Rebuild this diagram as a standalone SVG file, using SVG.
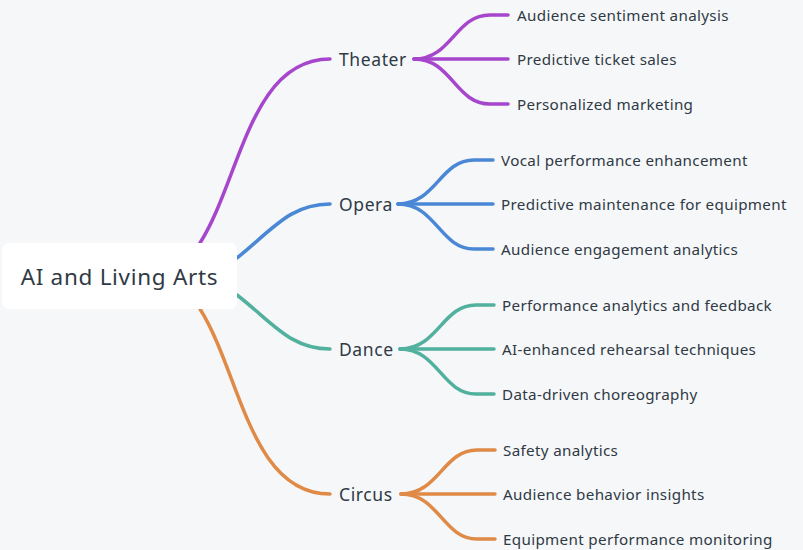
<svg xmlns="http://www.w3.org/2000/svg" width="803" height="550" viewBox="0 0 803 550">
<style>
text{font-family:"Noto Sans","Open Sans",sans-serif;fill:#2F3A45;dominant-baseline:central}
.root{font-size:22.5px;letter-spacing:0.7px}
.main{font-size:17.5px;letter-spacing:0.6px}
.leaf{font-size:15.2px;letter-spacing:0.33px}
.e{fill:none;stroke-width:3.5;stroke-linecap:round}
.p{stroke:#A646CC}.b{stroke:#4A88D6}.t{stroke:#52B09E}.o{stroke:#E08A47}
</style>
<rect x="0" y="0" width="803" height="550" fill="#F6F7F9"/>
<g id="connectors">
<path class="e p" d="M200,243 C240,180 250,59 330,59"/>
<path class="e b" d="M237,258 C272,230 290,204 330,204"/>
<path class="e t" d="M237,295 C272,322 290,349 330,349"/>
<path class="e o" d="M200,309 C240,372 250,494 330,494"/>
<path class="e p" d="M414,59 C452,59 455,15 490,15 L508,15"/>
<path class="e p" d="M414,59 L508,59"/>
<path class="e p" d="M414,59 C452,59 455,104 490,104 L508,104"/>
<path class="e b" d="M398,204 C436,204 440,160 474,160 L493,160"/>
<path class="e b" d="M398,204 L493,204"/>
<path class="e b" d="M398,204 C436,204 440,249 474,249 L493,249"/>
<path class="e t" d="M400,349 C438,349 442,305 476,305 L494,305"/>
<path class="e t" d="M400,349 L494,349"/>
<path class="e t" d="M400,349 C438,349 442,394 476,394 L494,394"/>
<path class="e o" d="M401,494 C439,494 443,450 477,450 L495,450"/>
<path class="e o" d="M401,494 L495,494"/>
<path class="e o" d="M401,494 C439,494 443,539 477,539 L495,539"/>
</g>
<g id="root">
<rect x="2" y="243" width="235" height="66" rx="7" fill="#FFFFFF"/>
<text class="root" x="119.5" y="276" text-anchor="middle">AI and Living Arts</text>
</g>
<g id="theater"><text class="main" x="339" y="59">Theater</text></g>
<g id="opera"><text class="main" x="339" y="204">Opera</text></g>
<g id="dance"><text class="main" x="339" y="349">Dance</text></g>
<g id="circus"><text class="main" x="339" y="494">Circus</text></g>
<g id="t1"><text class="leaf" x="517" y="15">Audience sentiment analysis</text></g>
<g id="t2"><text class="leaf" x="517" y="59">Predictive ticket sales</text></g>
<g id="t3"><text class="leaf" x="517" y="104">Personalized marketing</text></g>
<g id="o1"><text class="leaf" x="501" y="160">Vocal performance enhancement</text></g>
<g id="o2"><text class="leaf" x="501" y="204">Predictive maintenance for equipment</text></g>
<g id="o3"><text class="leaf" x="501" y="249">Audience engagement analytics</text></g>
<g id="d1"><text class="leaf" x="502" y="305">Performance analytics and feedback</text></g>
<g id="d2"><text class="leaf" x="502" y="349">AI-enhanced rehearsal techniques</text></g>
<g id="d3"><text class="leaf" x="502" y="394">Data-driven choreography</text></g>
<g id="c1"><text class="leaf" x="503" y="450">Safety analytics</text></g>
<g id="c2"><text class="leaf" x="503" y="494">Audience behavior insights</text></g>
<g id="c3"><text class="leaf" x="503" y="539">Equipment performance monitoring</text></g>
</svg>
